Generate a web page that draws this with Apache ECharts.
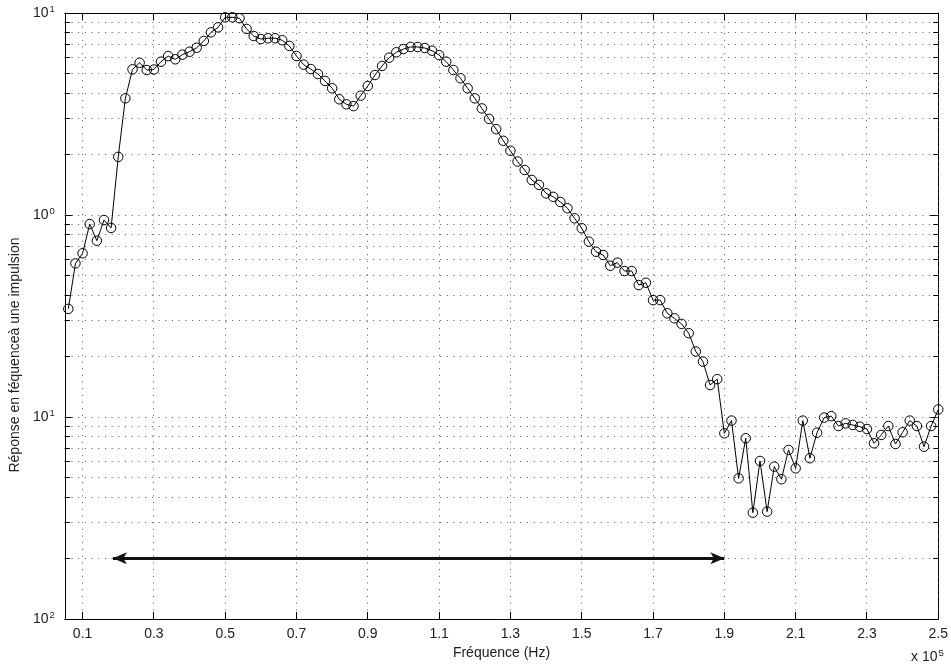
<!DOCTYPE html>
<html><head><meta charset="utf-8">
<script src="https://cdn.jsdelivr.net/npm/echarts@6/dist/echarts.min.js"></script>
<style>html,body{margin:0;padding:0;background:#fff}#c{width:951px;height:668px}</style>
</head><body><div id="c"></div>
<script>
// Frequency (x 10^5 Hz)
const frequencies = [
  0.06,0.08,0.10,0.12,0.14,0.16,0.18,0.20,0.22,0.24,
  0.26,0.28,0.30,0.32,0.34,0.36,0.38,0.40,0.42,0.44,
  0.46,0.48,0.50,0.52,0.54,0.56,0.58,0.60,0.62,0.64,
  0.66,0.68,0.70,0.72,0.74,0.76,0.78,0.80,0.82,0.84,
  0.86,0.88,0.90,0.92,0.94,0.96,0.98,1.00,1.02,1.04,
  1.06,1.08,1.10,1.12,1.14,1.16,1.18,1.20,1.22,1.24,
  1.26,1.28,1.30,1.32,1.34,1.36,1.38,1.40,1.42,1.44,
  1.46,1.48,1.50,1.52,1.54,1.56,1.58,1.60,1.62,1.64,
  1.66,1.68,1.70,1.72,1.74,1.76,1.78,1.80,1.82,1.84,
  1.86,1.88,1.90,1.92,1.94,1.96,1.98,2.00,2.02,2.04,
  2.06,2.08,2.10,2.12,2.14,2.16,2.18,2.20,2.22,2.24,
  2.26,2.28,2.30,2.32,2.34,2.36,2.38,2.40,2.42,2.44,
  2.46,2.48,2.50
];
// Frequency response to an impulse
const response = [
  0.343,0.576,0.646,0.902,0.746,0.944,0.863,1.94,3.78,5.26,
  5.67,5.22,5.25,5.74,6.12,5.90,6.22,6.43,6.73,7.27,
  8.02,8.49,9.52,9.52,9.42,8.34,7.69,7.43,7.50,7.50,
  7.33,6.87,6.12,5.55,5.28,4.99,4.61,4.24,3.74,3.53,
  3.46,3.90,4.35,4.93,5.47,6.01,6.39,6.63,6.79,6.79,
  6.71,6.51,6.19,5.74,5.22,4.75,4.24,3.78,3.37,2.99,
  2.66,2.33,2.08,1.84,1.67,1.49,1.41,1.28,1.23,1.16,
  1.08,0.963,0.86,0.738,0.658,0.634,0.561,0.581,0.528,0.528,
  0.450,0.462,0.379,0.379,0.326,0.308,0.289,0.260,0.211,0.188,
  0.144,0.154,0.083,0.096,0.0497,0.0785,0.0336,0.0606,0.034,0.0568,
  0.0492,0.0687,0.0557,0.096,0.0625,0.0836,0.0993,0.101,0.0902,0.093,
  0.0913,0.0895,0.0872,0.0741,0.0815,0.0902,0.0735,0.0840,0.096,0.0902,
  0.0713,0.0902,0.109
];
const xRange = [0.05, 2.5];
const yRange = [0.01, 10];
const xTicks = [0.1,0.3,0.5,0.7,0.9,1.1,1.3,1.5,1.7,1.9,2.1,2.3,2.5];
const xTickLabels = ['0.1','0.3','0.5','0.7','0.9','1.1','1.3','1.5','1.7','1.9','2.1','2.3','2.5'];
const yDecades = [0.01, 0.1, 1, 10];
const yDecadeExponents = ['2','1','0','1'];
const yGridMajor = [0.1, 1];
const yGridMinor = [0.02,0.03,0.04,0.05,0.06,0.07,0.08,0.09,
                    0.2,0.3,0.4,0.5,0.6,0.7,0.8,0.9,
                    2,3,4,5,6,7,8,9];
const arrowX = [0.185, 1.9];
const arrowY = 0.02;

const FONT = 'Liberation Sans, Arial, Helvetica, sans-serif';
const FS = 14;
const DOT = [1, 5.7];
const GRIDCOL = '#555';

const chart = echarts.init(document.getElementById('c'), null, {renderer: 'canvas'});

function crisp(v) { return Math.round(v - 0.5) + 0.5; }

const hGridData = yGridMinor.map(v => [xRange[0], v, 0]).concat(yGridMajor.map(v => [xRange[0], v, 1]));
const vGridData = xTicks.map(v => [v, yRange[0]]);

const option = {
  animation: false,
  backgroundColor: '#fff',
  grid: {left: 64, right: 7, top: 13, bottom: 49},
  xAxis: [{
    type: 'value', min: xRange[0], max: xRange[1], position: 'bottom',
    axisLine: {lineStyle: {color: '#000', width: 1}},
    axisTick: {show: false},
    splitLine: {show: false},
    axisLabel: {
      customValues: xTicks,
      formatter: v => { const i = xTicks.findIndex(t => Math.abs(t - v) < 1e-6); return i >= 0 ? xTickLabels[i] : ''; },
      color: '#222', fontSize: FS, fontFamily: FONT, margin: 8
    },
    name: 'Fréquence (Hz)', nameLocation: 'middle', nameGap: 25,
    nameTextStyle: {color: '#222', fontSize: FS, fontFamily: FONT}
  }, {
    type: 'value', min: xRange[0], max: xRange[1], position: 'top',
    axisLine: {lineStyle: {color: '#000', width: 1}},
    axisTick: {show: false}, axisLabel: {show: false}, splitLine: {show: false}
  }],
  yAxis: [{
    type: 'log', logBase: 10, min: yRange[0], max: yRange[1], position: 'left',
    axisLine: {lineStyle: {color: '#000', width: 1}},
    axisTick: {inside: true, length: 8, lineStyle: {color: '#000'}},
    splitLine: {show: false}, minorTick: {show: false}, minorSplitLine: {show: false},
    axisLabel: {
      margin: 10,
      formatter: v => { const e = Math.round(Math.log10(v)); const i = yDecades.findIndex(d => Math.round(Math.log10(d)) === e); return '{b|10}{s|' + (i >= 0 ? yDecadeExponents[i] : '') + '}'; },
      rich: {
        b: {color: '#222', fontSize: FS, fontFamily: FONT},
        s: {color: '#222', fontSize: 9.5, fontFamily: FONT, padding: [0, 0, 8, 1]}
      }
    },
    name: 'Réponse en féquenceà une impulsion', nameLocation: 'middle', nameGap: 41, nameRotate: 90,
    nameTextStyle: {color: '#222', fontSize: FS, fontFamily: FONT, padding: [0, 78, 0, 0]}
  }, {
    type: 'log', logBase: 10, min: yRange[0], max: yRange[1], position: 'right',
    axisLine: {lineStyle: {color: '#000', width: 1}},
    axisTick: {inside: true, length: 8, lineStyle: {color: '#000'}},
    axisLabel: {show: false}, splitLine: {show: false}
  }],
  series: [{
    type: 'custom', silent: true, z: 1,
    xAxisIndex: 0, yAxisIndex: 0,
    data: hGridData,
    renderItem: (params, api) => {
      const cs = params.coordSys;
      const p = api.coord([api.value(0), api.value(1)]);
      const y = crisp(p[1]);
      const x0 = cs.x, x1 = cs.x + cs.width;
      const children = [
        {type: 'line', shape: {x1: x0, y1: y, x2: x1, y2: y}, style: {stroke: GRIDCOL, lineWidth: 1, lineDash: DOT}}
      ];
      if (!api.value(2)) {
        children.push({type: 'line', shape: {x1: x0, y1: y, x2: x0 + 5, y2: y}, style: {stroke: '#000', lineWidth: 1}});
        children.push({type: 'line', shape: {x1: x1 - 5, y1: y, x2: x1, y2: y}, style: {stroke: '#000', lineWidth: 1}});
      }
      return {type: 'group', children};
    }
  }, {
    type: 'custom', silent: true, z: 1,
    xAxisIndex: 0, yAxisIndex: 0,
    data: vGridData,
    renderItem: (params, api) => {
      const cs = params.coordSys;
      const p = api.coord([api.value(0), api.value(1)]);
      const x = crisp(p[0]);
      const y0 = cs.y, y1 = cs.y + cs.height;
      return {type: 'group', children: [
        {type: 'line', shape: {x1: x, y1: y0, x2: x, y2: y1}, style: {stroke: GRIDCOL, lineWidth: 1, lineDash: DOT}},
        {type: 'line', shape: {x1: x, y1: y1, x2: x, y2: y1 - 7}, style: {stroke: '#000', lineWidth: 1}},
        {type: 'line', shape: {x1: x, y1: y0, x2: x, y2: y0 + 7}, style: {stroke: '#000', lineWidth: 1}}
      ]};
    }
  }, {
    type: 'line', z: 3,
    xAxisIndex: 0, yAxisIndex: 0,
    data: frequencies.map((f, i) => [f, response[i]]),
    showAllSymbol: true,
    symbol: 'circle', symbolSize: 9.5,
    lineStyle: {color: '#000', width: 1},
    itemStyle: {color: 'rgba(0,0,0,0)', borderColor: '#000', borderWidth: 1},
    emphasis: {disabled: true},
    markLine: {
      silent: true, animation: false,
      symbol: ['arrow', 'arrow'], symbolSize: [9, 14],
      lineStyle: {color: '#111', width: 3, type: 'solid'},
      label: {show: false},
      emphasis: {disabled: true},
      data: [[{coord: [arrowX[0], arrowY]}, {coord: [arrowX[1], arrowY]}]]
    }
  }],
  graphic: [{
    type: 'text', left: 911, top: 648, silent: true,
    style: {
      text: '{a|x 10}{s|5}',
      rich: {
        a: {fill: '#222', fontSize: FS, fontFamily: FONT},
        s: {fill: '#222', fontSize: 9.5, fontFamily: FONT, padding: [0, 0, 8, 1]}
      }
    }
  }]
};
chart.setOption(option);
</script>
</body></html>
